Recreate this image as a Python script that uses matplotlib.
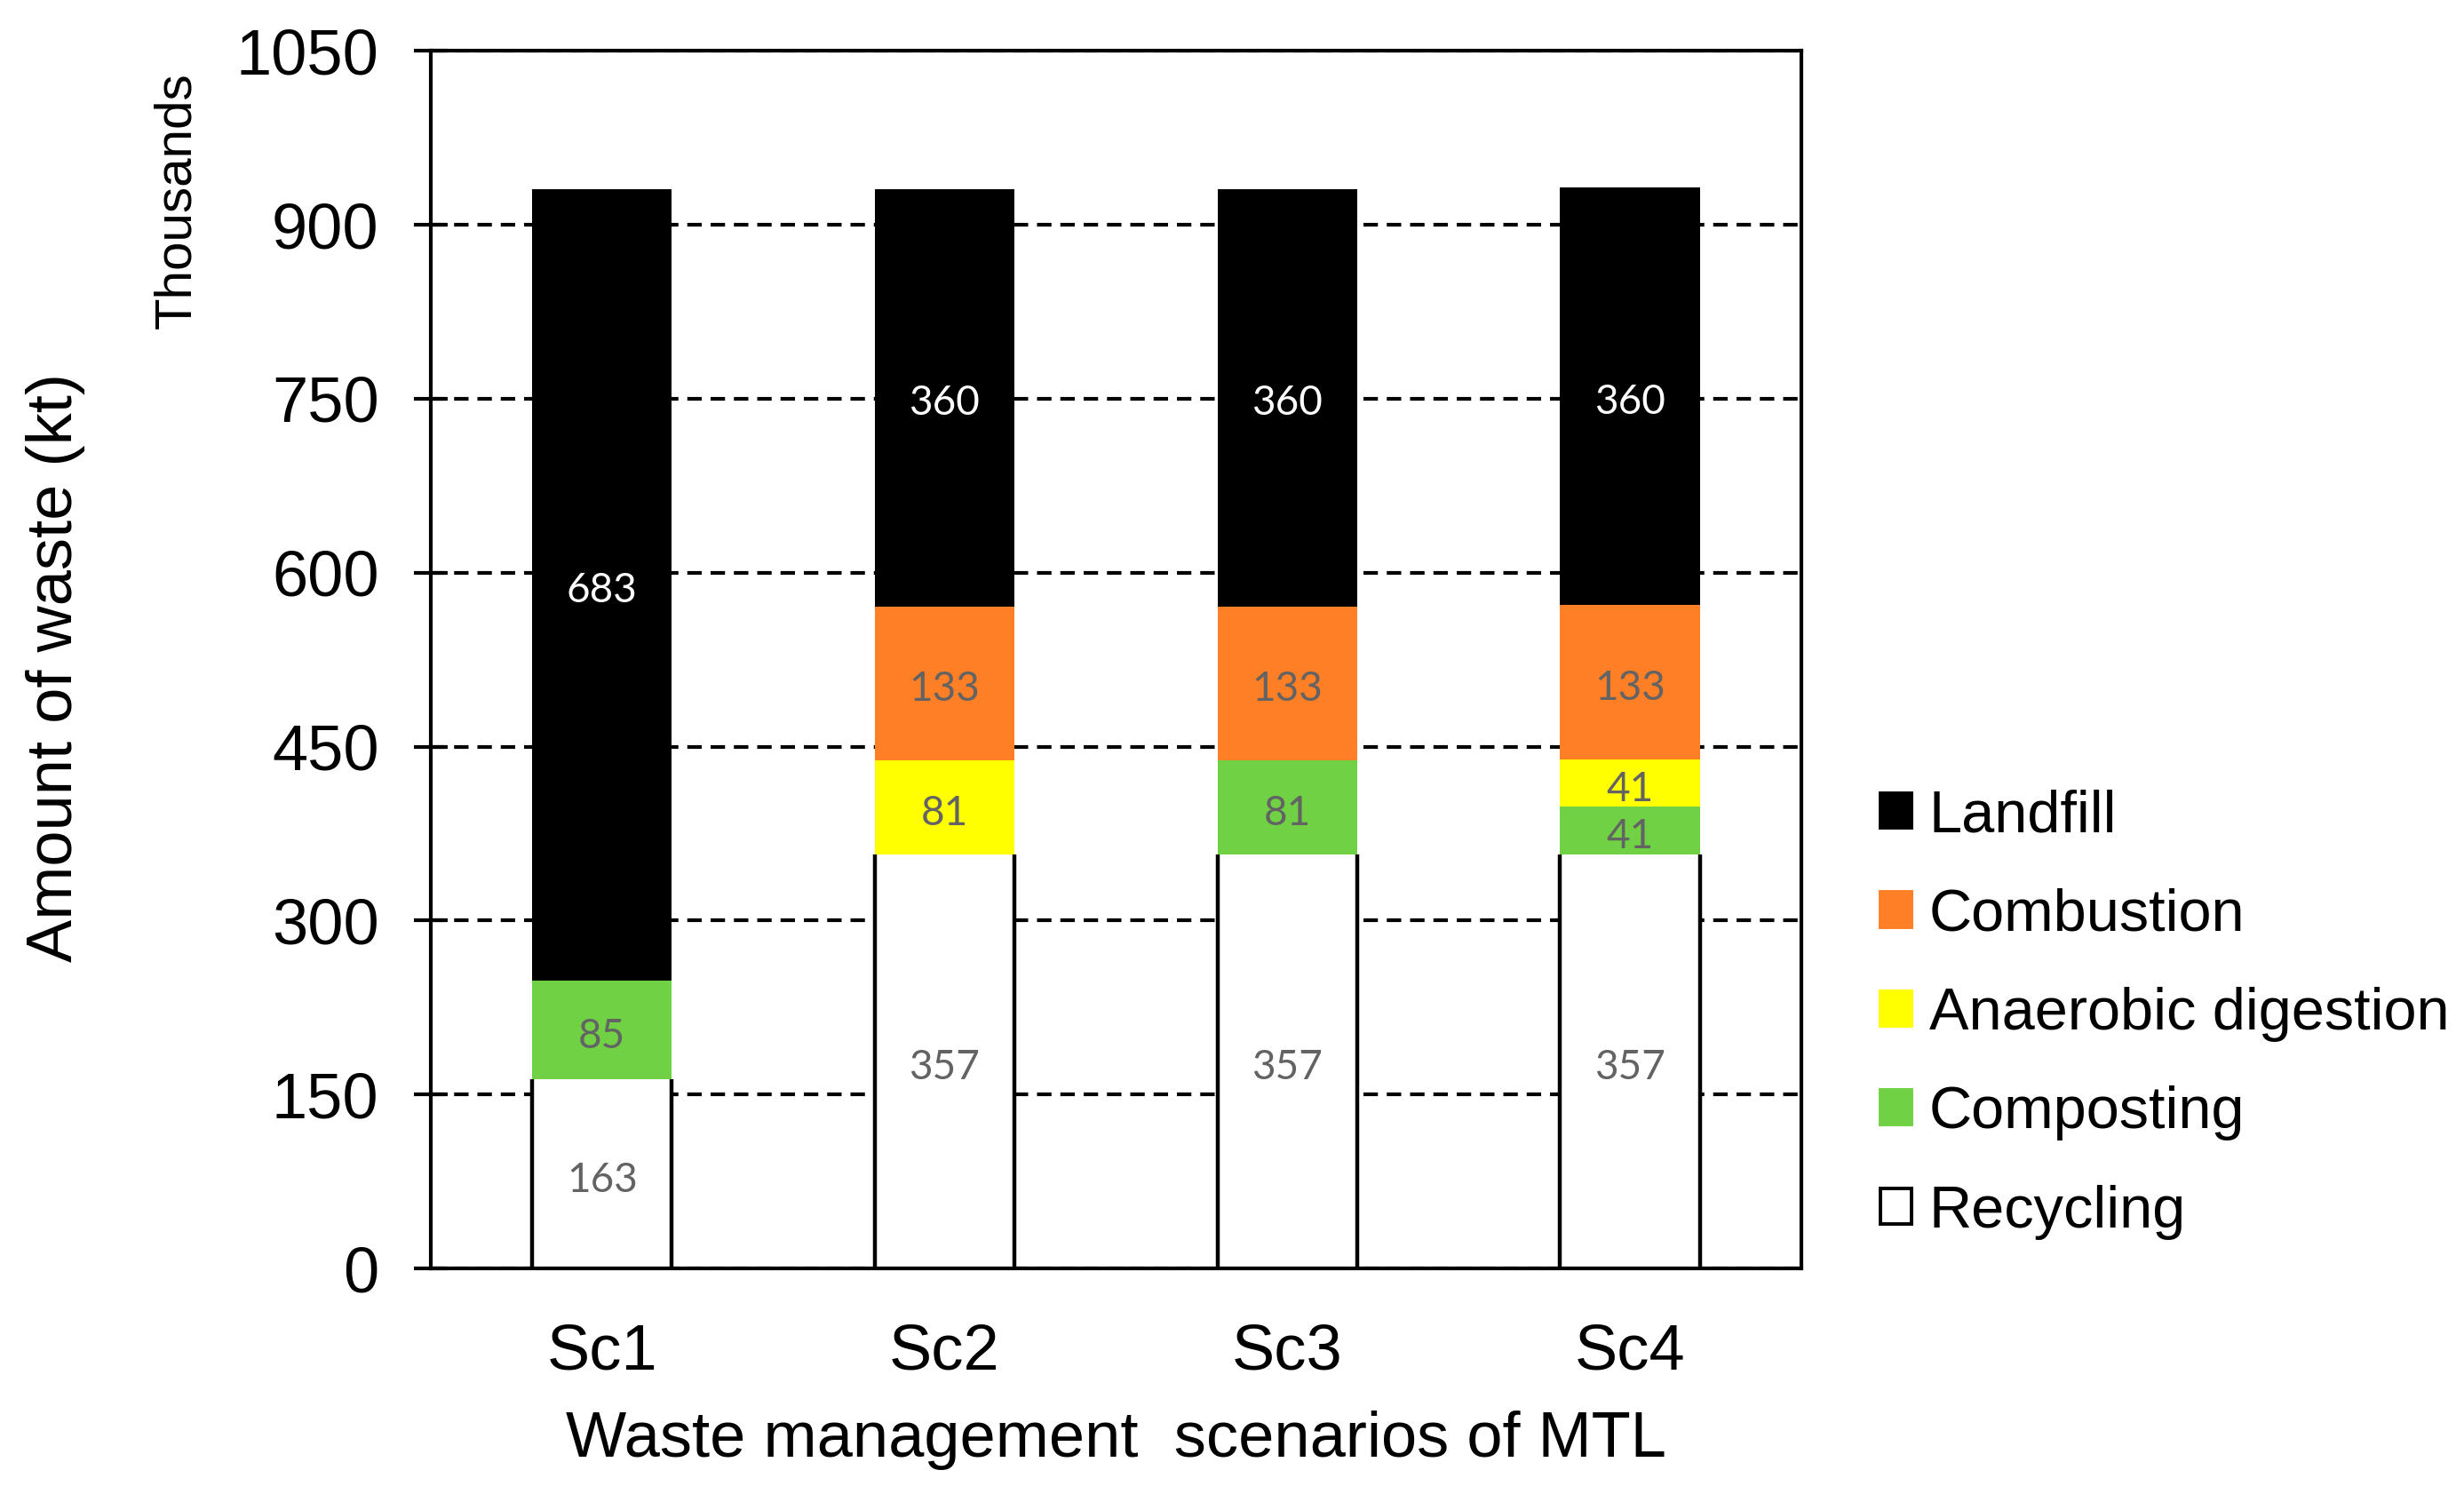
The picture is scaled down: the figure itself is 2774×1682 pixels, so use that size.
import numpy as np
import matplotlib
matplotlib.use("Agg")
import matplotlib.pyplot as plt
from matplotlib.patches import Patch

scenarios = ["Sc1", "Sc2", "Sc3", "Sc4"]

# stacked from the bottom up
recycling = [163, 357, 357, 357]
composting = [85, 0, 81, 41]
anaerobic = [0, 81, 0, 41]
combustion = [0, 133, 133, 133]
landfill = [683, 360, 360, 360]

y_ticks = [0, 150, 300, 450, 600, 750, 900, 1050]


def label_texts(values):
    return [str(v) if v > 0 else "" for v in values]


def plot():
    plt.rcParams['font.family'] = ['Liberation Sans', 'DejaVu Sans']
    fig = plt.figure(figsize=(13.87, 8.41), dpi=200)
    ax = fig.add_axes([0.1748, 0.151, 0.5562, 0.815])

    x = np.arange(len(scenarios))
    width = 0.408
    series = [
        ("Recycling", recycling, "white", True, "#636363"),
        ("Composting", composting, "#6fd143", False, "#636363"),
        ("Anaerobic digestion", anaerobic, "#ffff00", False, "#636363"),
        ("Combustion", combustion, "#ff7f27", False, "#636363"),
        ("Landfill", landfill, "black", False, "white"),
    ]

    bottom = np.zeros(len(scenarios))
    handles = []
    for name, values, color, outlined, text_color in series:
        bars = ax.bar(x, values, width, bottom=bottom, color=color,
                      edgecolor='none', zorder=3)
        if outlined:
            # only the sides of the white bars carry a black line
            for rect in bars:
                left = rect.get_x()
                right = left + rect.get_width()
                ax.vlines([left, right], rect.get_y(),
                          rect.get_y() + rect.get_height(),
                          color='black', linewidth=1.6, zorder=3)
        ax.bar_label(bars, labels=label_texts(values), label_type='center',
                     padding=-2.5, color=text_color, fontsize=16.5,
                     family='Lato')
        bottom += np.array(values)
        handles.append(Patch(facecolor=color,
                             edgecolor="black" if outlined else color,
                             linewidth=1.4, label=name))

    ax.set_xlim(-0.5, len(scenarios) - 0.5)
    ax.set_ylim(0, 1050)
    ax.set_yticks(y_ticks)
    ax.set_yticklabels([str(t) for t in y_ticks], fontsize=26)
    ax.set_xticks(x)
    ax.set_xticklabels(scenarios, fontsize=26)
    ax.tick_params(axis='y', direction='inout', length=14, width=1.5, pad=14)
    ax.tick_params(axis='x', length=0, pad=22)

    for spine in ax.spines.values():
        spine.set_linewidth(1.5)
        spine.set_zorder(4)

    ax.yaxis.grid(True, color='black', linestyle=(0, (3.9, 2.4)), linewidth=1.5)
    ax.set_axisbelow(True)

    fig.text(0.0224, 0.553, "Amount of waste (kt)", rotation=90,
             ha='center', va='center', fontsize=26)
    fig.text(0.072, 0.866, "Thousands", rotation=90,
             ha='center', va='center', fontsize=21)
    fig.text(0.4528, 0.025, "Waste management  scenarios of MTL",
             ha='center', va='baseline', fontsize=26)

    fig.legend(handles=handles[::-1], loc='center left',
               bbox_to_anchor=(0.763, 0.321), frameon=False,
               fontsize=24, handlelength=0.53, handleheight=0.53,
               handletextpad=0.3, labelspacing=0.74, borderpad=0,
               borderaxespad=0)

    fig.savefig("out.png", dpi=200)


def main():
    plot()


if __name__ == "__main__":
    main()
